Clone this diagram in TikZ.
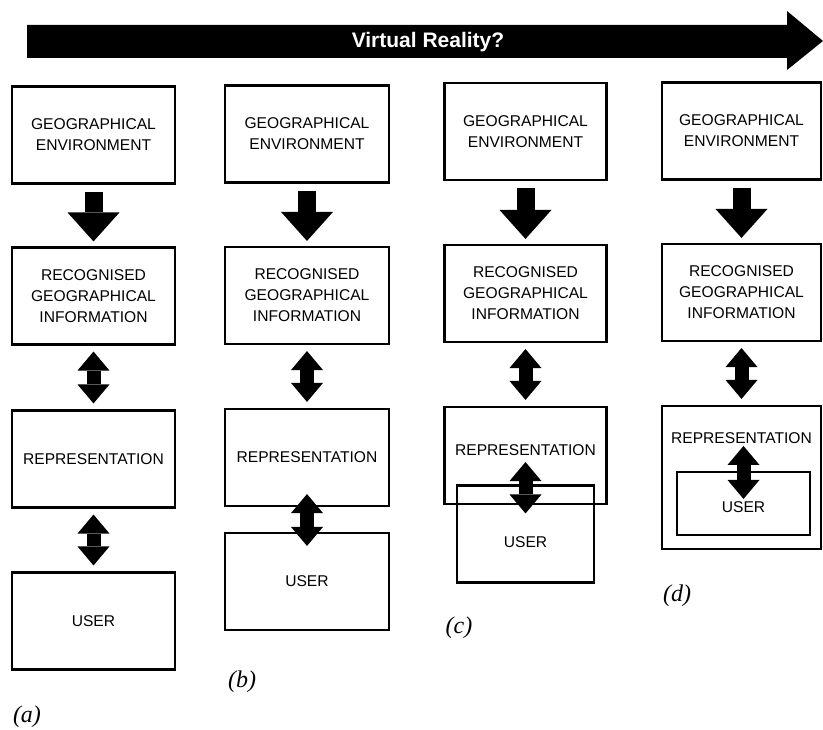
\documentclass[tikz,border=0pt]{standalone}
\usepackage{fontspec}
\setmainfont{Liberation Serif}
\setsansfont{Liberation Sans}
\usepackage{tikz}
\usetikzlibrary{positioning, arrows.meta}
\tikzstyle{box} = [draw, line width=2.1pt, minimum width=163pt, minimum height=97pt, inner sep=0pt, align=center, font=\sffamily\fontsize{15.6}{21}\selectfont]
\tikzstyle{flow} = [line width=18pt, shorten <=7pt, shorten >=5pt, -{Triangle[length=29pt,width=52pt,line width=0pt]}]
\tikzstyle{link} = [line width=14pt, shorten <=6pt, shorten >=6pt, {Triangle[length=19pt,width=32pt,line width=0pt]}-{Triangle[length=19pt,width=32pt,line width=0pt]}]
\tikzstyle{tag} = [font=\itshape\fontsize{24}{24}\selectfont]

\begin{document}
\begin{tikzpicture}[x=1pt,y=-1pt,node distance=162pt,on grid]
    \useasboundingbox (0,0) rectangle (823,730);
    % the banner
    \fill (27,25) -- (787,25) -- (787,11) -- (823,41) -- (787,70) -- (787,58) -- (27,58) -- cycle;
    \node[text=white,font=\sffamily\bfseries\fontsize{21}{21}\selectfont](vr) at (428,42) {Virtual Reality?};
    % (a)
    \node[box](geo_a) at (93.5,135) {GEOGRAPHICAL\\ENVIRONMENT};
    \node[box][below=161pt of geo_a](rec_a){RECOGNISED\\GEOGRAPHICAL\\INFORMATION};
    \node[box][below=163pt of rec_a](rep_a){REPRESENTATION};
    \node[box][below=162pt of rep_a](usr_a){USER};
    \node[tag](lab_a) at (27,717) {(a)};
    % (b)
    \node[box, minimum width=164pt](geo_b) at (307,134) {GEOGRAPHICAL\\ENVIRONMENT};
    \node[box, minimum width=164pt][below=161.5pt of geo_b](rec_b){RECOGNISED\\GEOGRAPHICAL\\INFORMATION};
    \node[box, minimum width=164pt][below=162pt of rec_b](rep_b){REPRESENTATION};
    \node[box, minimum width=164pt][below=124pt of rep_b](usr_b){USER};
    \node[tag](lab_b) at (242,682) {(b)};
    % (c)
    \node[box, minimum width=162pt](geo_c) at (525.5,131.5) {GEOGRAPHICAL\\ENVIRONMENT};
    \node[box, minimum width=162pt][below=162pt of geo_c](rec_c){RECOGNISED\\GEOGRAPHICAL\\INFORMATION};
    \node[box, minimum width=162pt, text depth=10pt][below=162pt of rec_c](rep_c){REPRESENTATION};
    \node[box, minimum width=137pt, text height=27pt][below=78.5pt of rep_c](usr_c){USER};
    \node[tag](lab_c) at (459,628) {(c)};
    % (d)
    \node[box, minimum width=159pt](geo_d) at (741.5,131) {GEOGRAPHICAL\\ENVIRONMENT};
    \node[box, minimum width=159pt][below=161.5pt of geo_d](rec_d){RECOGNISED\\GEOGRAPHICAL\\INFORMATION};
    \node[box, minimum width=159pt, minimum height=143pt][below=185pt of rec_d](rep_d){};
    \node[box, draw=none, minimum height=0pt][below=27pt of rep_d.north](rep_d_txt){REPRESENTATION};
    \node[box, minimum width=133pt, minimum height=63pt, text height=18pt][below=26pt of rep_d, xshift=2pt](usr_d){USER};
    \node[tag](lab_d) at (677,596) {(d)};
    \path[flow]
    (geo_a) edge (rec_a)
    (geo_b) edge (rec_b)
    (geo_c) edge (rec_c)
    (geo_d) edge (rec_d);
    \path[link]
    (rec_a) edge (rep_a)
    (rep_a) edge (usr_a)
    (rec_b) edge (rep_b)
    (rec_c) edge (rep_c)
    (rec_d) edge (rep_d);
    \path[link, shorten <=0pt, shorten >=0pt]
    ([yshift=13pt]rep_b.south) edge ([yshift=-14pt]usr_b.north)
    ([yshift=43pt]rep_c.south) edge ([yshift=-29pt]usr_c.north)
    ([yshift=25pt]usr_d.north) edge ([yshift=-28pt]usr_d.north);
\end{tikzpicture}
\end{document}
